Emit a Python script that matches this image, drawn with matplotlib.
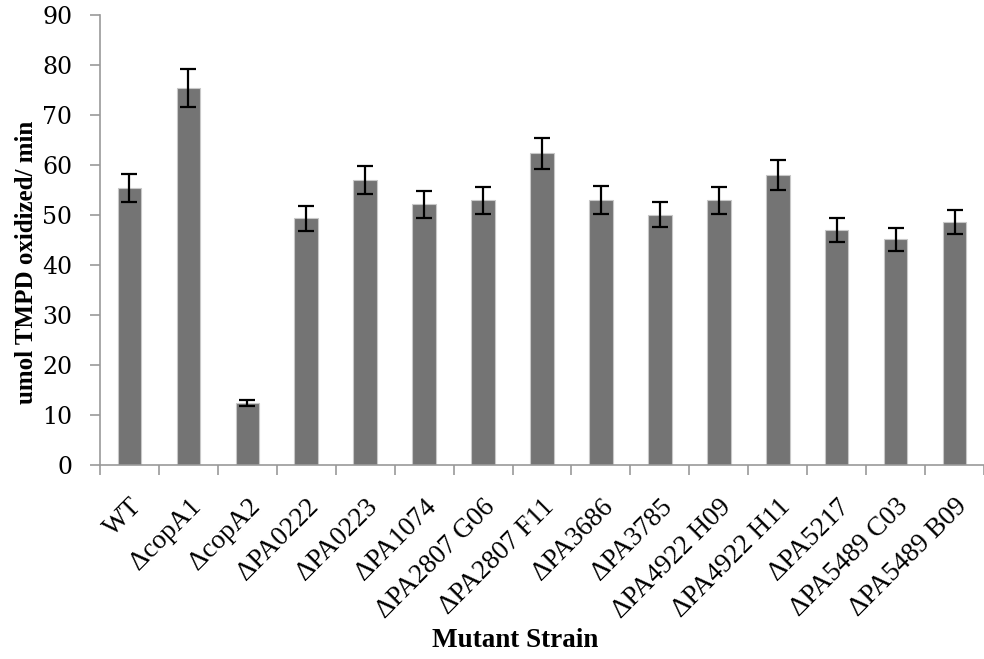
import numpy as np
import matplotlib.pyplot as plt

plt.rcParams['font.family'] = ['Liberation Serif', 'DejaVu Serif']

strains = ["WT", "ΔcopA1", "ΔcopA2", "ΔPA0222", "ΔPA0223", "ΔPA1074",
           "ΔPA2807 G06", "ΔPA2807 F11", "ΔPA3686", "ΔPA3785",
           "ΔPA4922 H09", "ΔPA4922 H11", "ΔPA5217", "ΔPA5489 C03",
           "ΔPA5489 B09"]
rate = [55.4, 75.3, 12.3, 49.3, 57.0, 52.1, 52.9, 62.3, 53.0, 50.0,
        52.9, 58.0, 47.0, 45.1, 48.6]
err = [2.8, 3.8, 0.6, 2.5, 2.85, 2.7, 2.7, 3.1, 2.75, 2.5,
       2.65, 2.95, 2.4, 2.25, 2.45]

fig = plt.figure(figsize=(9.84, 6.59), dpi=100)
ax = fig.add_axes([0.1016, 0.2944, 0.8984, 0.6829])

x = np.arange(len(strains))
ax.bar(x, rate, width=0.4, color="#747474", edgecolor="#c8c8c8", linewidth=0.8,
       yerr=err, error_kw=dict(ecolor="black", elinewidth=1.6, capsize=6, capthick=1.6),
       zorder=2)

ax.set_xlim(-0.5, len(strains) - 0.5)
ax.set_ylim(0, 90)
ax.set_yticks(range(0, 91, 10))
ax.tick_params(axis="y", direction="out", length=7, color="#999999", width=1.2, pad=13)
for lab in ax.get_yticklabels():
    lab.set_family(["DejaVu Serif"])
    lab.set_fontsize(17)

# category labels sit on centres, tick marks on the boundaries between bars
ax.set_xticks(x)
ax.set_xticklabels(strains, rotation=45, ha="right", rotation_mode="anchor", fontsize=19.5)
ax.tick_params(axis="x", which="major", length=0, pad=21)
ax.set_xticks(np.arange(-0.5, len(strains), 1.0), minor=True)
ax.tick_params(axis="x", which="minor", direction="out", length=7, color="#999999", width=1.2)

for side in ["top", "right"]:
    ax.spines[side].set_visible(False)
for side in ["left", "bottom"]:
    ax.spines[side].set_color("#999999")
    ax.spines[side].set_linewidth(1.2)

ax.set_ylabel("umol TMPD oxidized/ min", fontsize=18, fontweight="bold")
ax.yaxis.set_label_coords(-0.070, 0.451)
ax.set_xlabel("Mutant Strain", fontsize=19.5, fontweight="bold")
ax.xaxis.set_label_coords(0.47, -0.362)

fig.savefig("out.png", dpi=100)
